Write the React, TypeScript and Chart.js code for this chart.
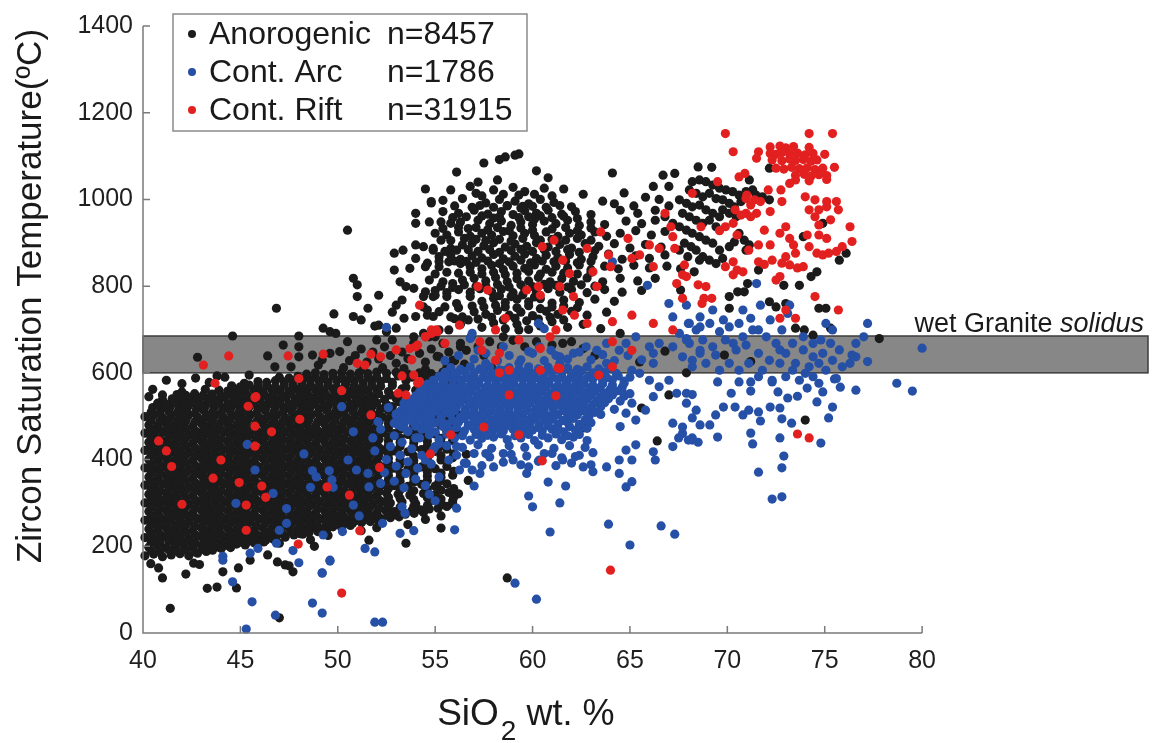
import React, { useEffect, useRef } from 'react';
import { Chart, registerables } from 'chart.js';

Chart.register(...registerables);

// ---------- axes / labels ----------
const xTickValues = [40, 45, 50, 55, 60, 65, 70, 75, 80];
const yTickValues = [0, 200, 400, 600, 800, 1000, 1200, 1400];
const X_MIN = 40;
const X_AXIS_END = 80;
const X_MAX = 91.7; // band continues past the axis end
const Y_MIN = 0;
const Y_MAX = 1400;
const solidusBand = [600, 685];
const legendLabels = ['Anorogenic', 'Cont. Arc', 'Cont. Rift'];
const legendCounts = ['n=8457', 'n=1786', 'n=31915'];
const seriesColors = ['#1b1b1b', '#2650a6', '#e2201f'];

// ---------- Anorogenic (black) ----------
const anorogenicCore = [
  40.1,178, 40.55,182, 41.0,176, 41.45,180, 41.9,183, 42.35,178, 42.8,184, 43.25,188,
  40.3,198, 40.75,202, 41.2,197, 41.65,200, 42.1,203, 42.55,199, 43.0,201, 43.45,204, 43.9,198, 44.35,202, 44.8,205, 45.25,203, 45.7,208,
  40.1,220, 40.55,218, 41.0,222, 41.45,219, 41.9,221, 42.35,217, 42.8,223, 43.25,220, 43.7,218, 44.15,222, 44.6,219, 45.05,221, 45.5,218, 45.95,223, 46.4,220, 46.85,224, 47.3,221, 47.75,226, 48.2,228,
  40.3,240, 40.75,238, 41.2,242, 41.65,239, 42.1,241, 42.55,237, 43.0,243, 43.45,240, 43.9,238, 44.35,242, 44.8,239, 45.25,241, 45.7,237, 46.15,243, 46.6,240, 47.05,238, 47.5,242, 47.95,239, 48.4,241, 48.85,243, 49.3,240, 49.75,245, 50.2,243, 50.65,248,
  40.1,260, 40.55,258, 41.0,262, 41.45,259, 41.9,261, 42.35,257, 42.8,263, 43.25,260, 43.7,258, 44.15,262, 44.6,259, 45.05,261, 45.5,257, 45.95,263, 46.4,260, 46.85,258, 47.3,262, 47.75,259, 48.2,261, 48.65,257, 49.1,263, 49.55,260, 50.0,258, 50.45,262, 50.9,259, 51.35,261, 51.8,264, 52.25,262, 52.7,266, 53.15,268,
  40.3,280, 40.75,278, 41.2,282, 41.65,279, 42.1,281, 42.55,277, 43.0,283, 43.45,280, 43.9,278, 44.35,282, 44.8,279, 45.25,281, 45.7,277, 46.15,283, 46.6,280, 47.05,278, 47.5,282, 47.95,279, 48.4,281, 48.85,277, 49.3,283, 49.75,280, 50.2,278, 50.65,282, 51.1,279, 51.55,281, 52.0,277, 52.45,283, 52.9,280, 53.35,278, 53.8,282, 54.25,284, 54.7,286, 55.15,288, 55.6,292,
  40.1,300, 40.55,298, 41.0,303, 41.45,299, 41.9,301, 42.35,297, 42.8,303, 43.25,300, 43.7,298, 44.15,302, 44.6,299, 45.05,301, 45.5,297, 45.95,303, 46.4,300, 46.85,298, 47.3,302, 47.75,299, 48.2,301, 48.65,297, 49.1,303, 49.55,300, 50.0,298, 50.45,302, 50.9,299, 51.35,301, 51.8,297, 52.25,303, 52.7,300, 53.3,302, 54.0,298, 54.7,303, 55.3,300, 55.9,305,
  40.3,320, 40.75,318, 41.2,322, 41.65,319, 42.1,321, 42.55,317, 43.0,323, 43.45,320, 43.9,318, 44.35,322, 44.8,319, 45.25,321, 45.7,317, 46.15,323, 46.6,320, 47.05,318, 47.5,322, 47.95,319, 48.4,321, 48.85,317, 49.3,323, 49.75,320, 50.2,318, 50.65,322, 51.1,319, 51.55,321, 52.0,317, 52.5,323, 53.1,320, 53.7,318, 54.4,322, 55.0,319, 55.7,324, 56.2,321,
  40.1,341, 40.55,338, 41.0,343, 41.45,339, 41.9,341, 42.35,337, 42.8,342, 43.25,340, 43.7,338, 44.15,343, 44.6,339, 45.05,341, 45.5,337, 45.95,342, 46.4,340, 46.85,338, 47.3,343, 47.75,339, 48.2,341, 48.65,337, 49.1,342, 49.55,340, 50.0,338, 50.45,343, 50.9,339, 51.35,341, 51.8,337, 52.3,342, 52.9,340, 53.6,338, 54.3,343, 55.0,339, 55.6,344,
  40.3,360, 40.75,358, 41.2,362, 41.65,359, 42.1,361, 42.55,357, 43.0,363, 43.45,360, 43.9,358, 44.35,362, 44.8,359, 45.25,361, 45.7,357, 46.15,363, 46.6,360, 47.05,358, 47.5,362, 47.95,359, 48.4,361, 48.85,357, 49.3,363, 49.75,360, 50.2,358, 50.65,362, 51.1,359, 51.55,361, 52.0,357, 52.6,363, 53.2,360, 53.9,358, 54.6,362, 55.3,359, 55.9,364,
  40.1,381, 40.55,378, 41.0,383, 41.45,379, 41.9,381, 42.35,377, 42.8,382, 43.25,380, 43.7,378, 44.15,383, 44.6,379, 45.05,381, 45.5,377, 45.95,382, 46.4,380, 46.85,378, 47.3,383, 47.75,379, 48.2,381, 48.65,377, 49.1,382, 49.55,380, 50.0,378, 50.45,383, 50.9,379, 51.35,381, 51.8,377, 52.3,382, 52.9,380, 53.6,378, 54.3,383, 55.0,379, 55.6,384,
  40.3,400, 40.75,398, 41.2,402, 41.65,399, 42.1,401, 42.55,397, 43.0,403, 43.45,400, 43.9,398, 44.35,402, 44.8,399, 45.25,401, 45.7,397, 46.15,403, 46.6,400, 47.05,398, 47.5,402, 47.95,399, 48.4,401, 48.85,397, 49.3,403, 49.75,400, 50.2,398, 50.65,402, 51.1,399, 51.55,401, 52.0,397, 52.6,403, 53.2,400, 53.9,398, 54.6,402, 55.3,399, 55.9,404,
  40.1,421, 40.55,418, 41.0,423, 41.45,419, 41.9,421, 42.35,417, 42.8,422, 43.25,420, 43.7,418, 44.15,423, 44.6,419, 45.05,421, 45.5,417, 45.95,422, 46.4,420, 46.85,418, 47.3,423, 47.75,419, 48.2,421, 48.65,417, 49.1,422, 49.55,420, 50.0,418, 50.45,423, 50.9,419, 51.35,421, 51.8,417, 52.3,422, 52.9,420, 53.6,418, 54.3,423, 55.0,419, 55.6,424,
  40.3,440, 40.75,438, 41.2,442, 41.65,439, 42.1,441, 42.55,437, 43.0,443, 43.45,440, 43.9,438, 44.35,442, 44.8,439, 45.25,441, 45.7,437, 46.15,443, 46.6,440, 47.05,438, 47.5,442, 47.95,439, 48.4,441, 48.85,437, 49.3,443, 49.75,440, 50.2,438, 50.65,442, 51.1,439, 51.55,441, 52.0,437, 52.6,443, 53.2,440, 53.9,438, 54.6,442, 55.3,439, 55.9,444,
  40.1,461, 40.55,458, 41.0,463, 41.45,459, 41.9,461, 42.35,457, 42.8,462, 43.25,460, 43.7,458, 44.15,463, 44.6,459, 45.05,461, 45.5,457, 45.95,462, 46.4,460, 46.85,458, 47.3,463, 47.75,459, 48.2,461, 48.65,457, 49.1,462, 49.55,460, 50.0,458, 50.45,463, 50.9,459, 51.35,461, 51.8,457, 52.3,462, 52.9,460, 53.6,458, 54.3,463, 55.0,459, 55.6,464, 56.2,460,
  40.3,480, 40.75,478, 41.2,482, 41.65,479, 42.1,481, 42.55,477, 43.0,483, 43.45,480, 43.9,478, 44.35,482, 44.8,479, 45.25,481, 45.7,477, 46.15,483, 46.6,480, 47.05,478, 47.5,482, 47.95,479, 48.4,481, 48.85,477, 49.3,483, 49.75,480, 50.2,478, 50.65,482, 51.1,479, 51.55,481, 52.0,477, 52.6,483, 53.2,480, 53.9,478, 54.6,482, 55.3,479, 55.9,484,
  40.1,499, 40.55,502, 41.0,497, 41.45,501, 41.9,499, 42.35,503, 42.8,498, 43.25,500, 43.7,502, 44.15,497, 44.6,501, 45.05,499, 45.5,503, 45.95,498, 46.4,500, 46.85,502, 47.3,497, 47.75,501, 48.2,499, 48.65,503, 49.1,498, 49.55,500, 50.0,502, 50.45,497, 50.9,501, 51.35,499, 51.8,503, 52.3,498, 52.9,500, 53.6,502, 54.3,497, 55.0,501, 55.6,499, 56.2,503,
  40.5,520, 40.95,518, 41.4,522, 41.85,519, 42.3,521, 42.75,517, 43.2,523, 43.65,520, 44.1,518, 44.55,522, 45.0,519, 45.45,521, 45.9,517, 46.35,523, 46.8,520, 47.25,518, 47.7,522, 48.15,519, 48.6,521, 49.05,517, 49.5,523, 49.95,520, 50.4,518, 50.85,522, 51.3,519, 51.75,521, 52.2,517, 52.8,522, 53.5,520, 54.2,518, 54.9,523, 55.6,520,
  40.3,545, 41.0,538, 41.5,540, 41.95,538, 42.4,542, 42.85,539, 43.3,541, 43.75,537, 44.2,543, 44.65,540, 45.1,538, 45.55,542, 46.0,539, 46.45,541, 46.9,537, 47.35,543, 47.8,540, 48.25,538, 48.7,542, 49.15,539, 49.6,541, 50.05,537, 50.5,543, 50.95,540, 51.4,538, 51.85,542, 52.4,539, 53.0,541, 53.7,537, 54.4,543, 55.1,540, 55.8,538,
  42.0,556, 43.2,562, 43.9,560, 44.35,558, 44.8,562, 45.25,559, 45.7,561, 46.15,557, 46.6,563, 47.05,560, 47.5,558, 47.95,562, 48.4,559, 48.85,561, 49.3,557, 49.75,563, 50.2,560, 50.65,558, 51.1,562, 51.55,559, 52.0,561, 52.6,557, 53.3,563, 54.0,560, 54.7,558, 55.4,562, 56.0,559,
  45.2,576, 45.9,580, 46.35,578, 46.8,582, 47.25,579, 47.7,581, 48.15,577, 48.6,583, 49.05,580, 49.5,578, 49.95,582, 50.4,579, 50.85,581, 51.3,577, 51.75,583, 52.2,580, 52.8,578, 53.5,582, 54.2,579, 54.9,581, 55.6,577, 56.2,583,
  48.4,597, 48.85,600, 49.3,596, 49.75,599, 50.2,601, 50.65,597, 51.1,600, 51.55,598, 52.0,602, 52.5,599, 53.0,601, 53.6,597, 54.2,600, 54.8,598, 55.4,602, 56.0,599,
];

// in-between rows of the same dense blob
const anorogenicCoreFill = [
  40.42,190, 40.87,188, 41.32,192, 41.77,189, 42.22,191, 42.67,187, 43.12,193, 43.57,191, 44.02,195, 44.5,197,
  40.42,210, 40.87,208, 41.32,212, 41.77,209, 42.22,211, 42.67,207, 43.12,213, 43.57,210, 44.02,208, 44.47,212, 44.92,209, 45.37,211, 45.82,213, 46.3,214, 46.7,216,
  40.42,230, 40.87,228, 41.32,232, 41.77,229, 42.22,231, 42.67,227, 43.12,233, 43.57,230, 44.02,228, 44.47,232, 44.92,229, 45.37,231, 45.82,227, 46.27,233, 46.72,230, 47.17,228, 47.62,232, 48.07,229, 48.52,231, 48.97,234, 49.42,236,
  40.42,250, 40.87,248, 41.32,252, 41.77,249, 42.22,251, 42.67,247, 43.12,253, 43.57,250, 44.02,248, 44.47,252, 44.92,249, 45.37,251, 45.82,247, 46.27,253, 46.72,250, 47.17,248, 47.62,252, 48.07,249, 48.52,251, 48.97,247, 49.42,253, 49.87,250, 50.32,252, 50.77,254, 51.22,255, 51.67,257, 52.1,258,
  40.42,270, 40.87,268, 41.32,272, 41.77,269, 42.22,271, 42.67,267, 43.12,273, 43.57,270, 44.02,268, 44.47,272, 44.92,269, 45.37,271, 45.82,267, 46.27,273, 46.72,270, 47.17,268, 47.62,272, 48.07,269, 48.52,271, 48.97,267, 49.42,273, 49.87,270, 50.32,268, 50.77,272, 51.22,269, 51.67,271, 52.12,267, 52.57,273, 53.02,272, 53.47,274, 53.92,276, 54.4,278,
  40.42,290, 40.87,288, 41.32,292, 41.77,289, 42.22,291, 42.67,287, 43.12,293, 43.57,290, 44.02,288, 44.47,292, 44.92,289, 45.37,291, 45.82,287, 46.27,293, 46.72,290, 47.17,288, 47.62,292, 48.07,289, 48.52,291, 48.97,287, 49.42,293, 49.87,290, 50.32,288, 50.77,292, 51.22,289, 51.67,291, 52.12,287, 52.6,293, 53.2,290, 53.9,292, 54.6,294, 55.3,296, 55.9,298,
  40.42,310, 40.87,308, 41.32,312, 41.77,309, 42.22,311, 42.67,307, 43.12,313, 43.57,310, 44.02,308, 44.47,312, 44.92,309, 45.37,311, 45.82,307, 46.27,313, 46.72,310, 47.17,308, 47.62,312, 48.07,309, 48.52,311, 48.97,307, 49.42,313, 49.87,310, 50.32,308, 50.77,312, 51.22,309, 51.67,311, 52.12,307, 52.6,313, 53.2,310, 53.9,308, 54.6,312, 55.3,309, 55.95,313,
  40.42,330, 40.87,328, 41.32,332, 41.77,329, 42.22,331, 42.67,327, 43.12,333, 43.57,330, 44.02,328, 44.47,332, 44.92,329, 45.37,331, 45.82,327, 46.27,333, 46.72,330, 47.17,328, 47.62,332, 48.07,329, 48.52,331, 48.97,327, 49.42,333, 49.87,330, 50.32,328, 50.77,332, 51.22,329, 51.67,331, 52.12,327, 52.6,333, 53.2,330, 53.9,328, 54.6,332, 55.3,329, 55.95,333,
  40.42,350, 40.87,348, 41.32,352, 41.77,349, 42.22,351, 42.67,347, 43.12,353, 43.57,350, 44.02,348, 44.47,352, 44.92,349, 45.37,351, 45.82,347, 46.27,353, 46.72,350, 47.17,348, 47.62,352, 48.07,349, 48.52,351, 48.97,347, 49.42,353, 49.87,350, 50.32,348, 50.77,352, 51.22,349, 51.67,351, 52.12,347, 52.6,353, 53.2,350, 53.9,348, 54.6,352, 55.2,349,
  40.42,370, 40.87,368, 41.32,372, 41.77,369, 42.22,371, 42.67,367, 43.12,373, 43.57,370, 44.02,368, 44.47,372, 44.92,369, 45.37,371, 45.82,367, 46.27,373, 46.72,370, 47.17,368, 47.62,372, 48.07,369, 48.52,371, 48.97,367, 49.42,373, 49.87,370, 50.32,368, 50.77,372, 51.22,369, 51.67,371, 52.12,367, 52.6,373, 53.2,370, 53.9,368, 54.6,372, 55.3,369, 55.95,373,
  40.42,390, 40.87,388, 41.32,392, 41.77,389, 42.22,391, 42.67,387, 43.12,393, 43.57,390, 44.02,388, 44.47,392, 44.92,389, 45.37,391, 45.82,387, 46.27,393, 46.72,390, 47.17,388, 47.62,392, 48.07,389, 48.52,391, 48.97,387, 49.42,393, 49.87,390, 50.32,388, 50.77,392, 51.22,389, 51.67,391, 52.12,387, 52.6,393, 53.2,390, 53.9,388, 54.6,392,
  40.42,410, 40.87,408, 41.32,412, 41.77,409, 42.22,411, 42.67,407, 43.12,413, 43.57,410, 44.02,408, 44.47,412, 44.92,409, 45.37,411, 45.82,407, 46.27,413, 46.72,410, 47.17,408, 47.62,412, 48.07,409, 48.52,411, 48.97,407, 49.42,413, 49.87,410, 50.32,408, 50.77,412, 51.22,409, 51.67,411, 52.12,407, 52.6,413, 53.2,410, 53.9,408, 54.6,412, 55.3,409, 55.95,413,
  40.42,430, 40.87,428, 41.32,432, 41.77,429, 42.22,431, 42.67,427, 43.12,433, 43.57,430, 44.02,428, 44.47,432, 44.92,429, 45.37,431, 45.82,427, 46.27,433, 46.72,430, 47.17,428, 47.62,432, 48.07,429, 48.52,431, 48.97,427, 49.42,433, 49.87,430, 50.32,428, 50.77,432, 51.22,429, 51.67,431, 52.12,427, 52.6,433, 53.2,430, 53.9,428, 54.6,432, 55.2,429,
  40.42,450, 40.87,448, 41.32,452, 41.77,449, 42.22,451, 42.67,447, 43.12,453, 43.57,450, 44.02,448, 44.47,452, 44.92,449, 45.37,451, 45.82,447, 46.27,453, 46.72,450, 47.17,448, 47.62,452, 48.07,449, 48.52,451, 48.97,447, 49.42,453, 49.87,450, 50.32,448, 50.77,452, 51.22,449, 51.67,451, 52.12,447, 52.6,453, 53.2,450, 53.9,448, 54.6,452, 55.3,449, 55.95,453,
  40.42,470, 40.87,468, 41.32,472, 41.77,469, 42.22,471, 42.67,467, 43.12,473, 43.57,470, 44.02,468, 44.47,472, 44.92,469, 45.37,471, 45.82,467, 46.27,473, 46.72,470, 47.17,468, 47.62,472, 48.07,469, 48.52,471, 48.97,467, 49.42,473, 49.87,470, 50.32,468, 50.77,472, 51.22,469, 51.67,471, 52.12,467, 52.6,473, 53.2,470, 53.9,468, 54.6,472,
  40.42,490, 40.87,488, 41.32,492, 41.77,489, 42.22,491, 42.67,487, 43.12,493, 43.57,490, 44.02,488, 44.47,492, 44.92,489, 45.37,491, 45.82,487, 46.27,493, 46.72,490, 47.17,488, 47.62,492, 48.07,489, 48.52,491, 48.97,487, 49.42,493, 49.87,490, 50.32,488, 50.77,492, 51.22,489, 51.67,491, 52.12,487, 52.6,493, 53.2,490, 53.9,488, 54.6,492, 55.3,489, 55.95,493,
  40.42,510, 40.87,508, 41.32,512, 41.77,509, 42.22,511, 42.67,507, 43.12,513, 43.57,510, 44.02,508, 44.47,512, 44.92,509, 45.37,511, 45.82,507, 46.27,513, 46.72,510, 47.17,508, 47.62,512, 48.07,509, 48.52,511, 48.97,507, 49.42,513, 49.87,510, 50.32,508, 50.77,512, 51.22,509, 51.67,511, 52.12,507, 52.6,513, 53.2,510, 53.9,508, 54.6,512, 55.3,509,
  40.75,530, 41.2,528, 41.65,532, 42.1,529, 42.55,531, 43.0,527, 43.45,533, 43.9,530, 44.35,528, 44.8,532, 45.25,529, 45.7,531, 46.15,527, 46.6,533, 47.05,530, 47.5,528, 47.95,532, 48.4,529, 48.85,531, 49.3,527, 49.75,533, 50.2,530, 50.65,528, 51.1,532, 51.55,529, 52.0,531, 52.5,527, 53.15,533, 53.85,530, 54.55,528, 55.25,532, 55.95,529,
  41.75,550, 42.2,548, 42.65,552, 43.1,549, 43.55,551, 44.0,547, 44.45,553, 44.9,550, 45.35,548, 45.8,552, 46.25,549, 46.7,551, 47.15,547, 47.6,553, 48.05,550, 48.5,548, 48.95,552, 49.4,549, 49.85,551, 50.3,547, 50.75,553, 51.2,550, 51.65,548, 52.1,552, 52.7,549, 53.35,551, 54.05,547, 54.75,553, 55.45,550, 55.95,548,
  44.55,570, 45.0,568, 45.45,572, 45.9,569, 46.35,571, 46.8,567, 47.25,573, 47.7,570, 48.15,568, 48.6,572, 49.05,569, 49.5,571, 49.95,567, 50.4,573, 50.85,570, 51.3,568, 51.75,572, 52.2,569, 52.8,571, 53.5,567, 54.2,573, 54.9,570, 55.6,568, 56.1,572,
  47.0,590, 47.5,588, 47.95,592, 48.4,589, 48.85,591, 49.3,587, 49.75,593, 50.2,590, 50.65,588, 51.1,592, 51.55,589, 52.0,591, 52.5,587, 53.1,593, 53.8,590, 54.5,588, 55.2,592, 55.9,589,
];

const anorogenicEdge = [
  46.2,210, 47.0,207, 48.6,215, 49.5,225, 51.2,236, 52.0,243, 53.6,250, 54.5,262, 55.3,270,
  40.4,160, 40.8,150, 41.0,127, 41.4,57, 42.2,136, 42.6,161, 42.9,158, 43.3,103, 43.8,106, 44.1,141,
  44.8,104, 44.9,150, 45.5,168, 46.9,164, 47.0,35, 47.3,157, 47.5,155, 47.7,141, 46.4,180, 48.8,200,
  51.6,214, 53.5,207, 55.3,242, 58.7,127, 41.0,549,
  40.5,562, 41.2,583, 42.0,575, 42.7,588, 43.4,578, 44.2,590, 56.7,352, 56.6,412, 56.9,478,
];

const anorogenicBand = [
  42.8,636, 43.8,593, 44.6,685, 45.45,595, 46.4,639, 46.85,749, 46.77,614, 47.2,664, 48.0,685, 48.0,660,
  48.0,637, 47.6,614, 48.7,641, 49.2,630, 49.6,645, 50.1,649, 50.5,672, 49.25,703, 49.6,695, 49.9,691,
  49.8,736, 50.5,929, 50.8,818, 51.0,803, 51.0,776, 51.55,749, 50.8,730, 51.2,722, 51.9,708, 52.1,779,
  50.6,628, 50.9,640, 51.2,655, 51.5,625, 51.8,648, 52.1,632, 52.4,660, 52.7,640, 53.0,622, 53.3,648,
  53.6,633, 53.9,668, 54.2,645, 54.5,625, 54.8,655, 55.1,638, 55.4,668, 55.7,648, 56.0,628, 56.3,660,
  52.0,676, 52.8,676, 53.9,683, 54.7,683, 55.2,699, 50.3,612, 51.3,608, 52.3,612, 53.4,610, 54.5,608,
  55.6,612, 49.0,618, 52.9,876, 53.35,883, 54.0,895, 54.0,864, 53.7,841, 52.9,837, 54.0,968, 54.0,945,
  54.8,992, 54.9,883, 54.6,853, 53.2,810, 53.5,799, 53.9,795, 54.5,787, 53.0,756, 53.3,768, 54.9,776,
  54.4,752, 54.0,730, 53.4,726, 53.0,703, 52.5,695, 52.1,710, 54.6,745, 54.9,730,
  56.5,620, 57.5,640, 58.5,683, 59.3,699, 61.55,668, 62.6,656, 64.5,691, 63.2,640, 65.5,625, 66.8,650,
  55.6,622, 57.9,612,
];

const anorogenicUpper = [
  56.1,1063, 57.5,1084, 58.3,1092, 58.6,1098, 59.3,1105, 60.2,1066, 58.2,1045, 64.1,1061, 66.7,1056, 60.8,1050, 57.2,1040, 59.1,1102,
  54.5,1024, 55.8,1022, 57.1,1014, 56.8,1030, 58.0,1022, 59.0,1028, 59.6,1018, 60.6,1026, 61.6,1024, 62.6,1012,
  54.8,995, 55.4,998, 56.4,1002, 57.6,992, 58.3,1000, 59.1,996, 59.8,990, 60.4,1000, 61.1,993, 63.6,996, 64.2,990,
  55.4,972, 56.2,968, 57.0,975, 57.7,966, 58.4,972, 59.0,965, 59.6,974, 60.2,968, 60.8,975, 61.5,966, 62.2,972, 63.0,965, 64.5,975, 65.4,968,
  54.7,948, 55.3,948, 55.8,945, 56.3,948, 56.7,933, 57.2,952, 57.8,944, 58.4,950, 58.9,940, 59.4,948, 60.0,942, 60.6,950, 61.2,944, 61.8,952, 62.4,940, 63.0,948, 63.7,942, 64.8,950, 65.6,944, 66.3,952,
  55.0,922, 55.6,918, 56.2,925, 56.8,915, 57.4,922, 57.9,918, 58.5,926, 59.0,916, 59.6,922, 60.1,917, 60.7,925, 61.3,915, 61.9,922, 62.5,918, 63.2,925, 63.8,915, 64.5,922, 65.3,928, 66.1,918, 66.8,926,
  54.4,891, 54.9,887, 55.3,906, 55.8,887, 56.4,895, 56.9,899, 57.5,893, 58.0,900, 58.6,890, 59.1,897, 59.7,892, 60.2,900, 60.8,890, 61.4,896, 62.0,888, 62.7,898, 63.4,892, 64.2,898, 65.0,888, 65.8,896, 66.6,890,
  55.2,868, 55.8,872, 56.3,862, 56.9,870, 57.4,865, 58.0,873, 58.5,863, 59.1,869, 59.6,874, 60.2,864, 60.7,871, 61.3,866, 61.9,873, 62.5,862, 63.1,868, 63.9,874, 64.6,862, 65.3,870, 66.0,864, 66.8,872,
  54.5,845, 55.2,845, 55.7,856, 56.3,852, 56.8,845, 57.4,840, 57.9,848, 58.5,838, 59.0,846, 59.6,841, 60.1,849, 60.7,839, 61.2,846, 61.8,842, 62.4,849, 63.0,838, 63.7,846, 64.4,840, 65.2,848, 66.0,842, 66.9,846, 67.6,840,
  54.7,814, 55.4,810, 55.9,806, 56.4,814, 57.0,818, 57.6,812, 58.1,820, 58.7,810, 59.2,817, 59.8,812, 60.3,820, 60.9,810, 61.5,817, 62.1,811, 62.8,819, 63.6,810, 64.5,818, 65.4,812, 66.3,818,
  55.0,790, 55.6,785, 56.2,792, 56.8,786, 57.3,794, 57.9,787, 58.4,793, 59.0,785, 59.6,792, 60.2,786, 60.8,794, 61.4,786, 62.0,792, 62.8,785, 63.7,792, 64.6,786, 65.6,790,
  54.4,776, 55.0,779, 55.6,776, 56.1,760, 56.8,776, 57.4,765, 58.0,772, 58.6,762, 59.2,770, 59.8,764, 60.4,771, 61.0,761, 61.6,768, 62.4,762, 63.2,770, 64.2,765,
  52.8,740, 54.6,733, 55.2,741, 55.8,729, 56.4,729, 57.0,741, 57.6,735, 58.2,744, 58.8,733, 59.4,740, 60.0,732, 60.7,742, 61.3,735, 62.0,742, 62.8,733, 63.8,740,
  54.4,691, 55.0,683, 55.7,699, 56.3,712, 56.85,683, 57.4,705, 58.0,715, 58.6,702, 59.2,712, 59.8,700, 60.4,708, 61.0,718, 61.8,705, 62.6,712, 63.5,702,
  55.2,637, 55.9,629, 56.3,668, 56.6,652, 57.2,660, 57.8,672, 58.4,660, 59.0,675, 59.6,660, 60.2,672, 61.0,664, 62.0,672,
  57.7,930, 58.2,935, 58.8,928, 59.4,934, 60.0,929, 57.6,905, 58.3,908, 58.9,904, 59.5,910, 60.4,906,
  57.2,880, 57.8,884, 58.3,878, 58.9,882, 59.4,885, 60.0,880, 60.6,884, 57.1,855, 57.7,858, 58.3,852,
  58.8,856, 59.4,860, 59.9,854, 60.5,858, 57.4,828, 58.0,832, 58.6,826, 59.2,830, 59.8,834, 60.4,828,
  61.0,832, 57.6,800, 58.2,804, 58.8,798, 59.4,803, 60.0,799, 60.6,804, 58.3,778, 58.9,776, 59.5,780,
  60.1,775, 58.6,752, 59.2,750, 59.8,755, 60.4,748, 58.3,960, 59.3,958, 60.1,955, 58.7,985, 59.5,984,
  66.5,1000, 67.0,985, 66.8,960, 67.2,945, 66.3,975, 65.8,1005, 65.2,985, 64.7,1015, 67.3,1060, 67.0,1030, 66.2,1030,
  57.4,1008, 58.5,1012, 59.3,1010, 60.1,1012, 61.0,1008,
  56.0,985, 56.9,982, 57.3,986, 58.0,982, 58.7,986, 59.4,980, 60.0,984, 60.7,982, 61.4,986, 62.0,983,
  55.9,958, 56.6,960, 57.4,962, 58.0,957, 59.8,960, 60.4,962, 61.0,958, 61.6,961, 62.3,956,
  55.4,933, 56.2,936, 57.1,935, 61.0,932, 61.7,935, 62.3,928, 63.0,934,
  55.8,905, 56.5,910, 57.1,908, 61.0,908, 61.7,906, 62.3,910, 63.0,906,
  55.5,880, 56.1,883, 56.7,884, 61.2,880, 61.8,884, 62.4,878, 63.2,882,
  55.2,857, 56.0,858, 56.6,857, 61.1,856, 61.7,858, 62.3,854, 63.0,857,
  55.0,828, 55.6,832, 56.2,830, 56.8,832, 61.6,830, 62.3,828, 63.0,832,
  55.3,800, 55.9,797, 56.5,803, 57.1,800, 61.2,802, 61.8,798, 62.5,803, 63.2,800,
  55.5,752, 56.2,750, 56.9,754, 57.5,752, 58.1,756, 61.0,752, 61.6,754, 62.3,750,
  56.0,725, 56.7,722, 57.2,724, 57.9,728, 58.5,722, 59.1,726, 59.7,720, 60.3,724, 60.9,728, 61.6,722,
];

const anorogenicRing = [
  68.2,1041, 68.57,1045, 68.9,1041, 69.25,1033, 69.6,1026, 69.93,1022, 70.27,1018, 70.6,1010, 70.96,1018, 71.3,1022,
  68.05,1022, 68.4,1014, 68.74,1006, 69.08,1014, 69.42,1002, 69.76,999, 70.1,991, 70.36,983, 70.7,995, 67.54,999,
  67.9,991, 68.2,983, 68.57,987, 68.9,976, 69.25,968, 69.6,960, 67.7,968, 68.05,960, 68.4,952, 68.74,945,
  69.08,952, 69.42,937, 67.54,937, 67.9,929, 68.2,922, 68.57,914, 68.9,906, 69.25,899, 67.8,899, 68.14,891,
  68.4,883, 68.74,868, 69.08,860, 69.42,852, 69.76,864, 67.54,883, 67.97,868, 68.57,860, 70.87,906, 71.13,895,
  70.96,883, 72.16,999, 71.8,1006, 71.47,1010, 70.1,968, 70.45,960, 69.76,976, 70.6,922, 70.36,902, 70.1,891,
  69.6,883, 68.5,1075, 69.2,1074, 72.16,1072, 71.13,1045,
  68.3,833, 71.04,806, 70.1,776, 70.53,787, 70.87,787, 72.16,764, 72.5,752, 73.0,760, 72.9,802, 73.7,802,
  74.3,822, 74.6,833, 75.75,860, 76.1,876, 73.9,914, 74.9,945, 74.7,749, 75.06,749, 75.3,703, 73.5,703,
  73.95,699, 74.4,687, 77.8,679, 69.85,641, 71.2,626, 67.9,600, 70.1,749, 71.6,837, 67.6,791,
  62.6,473, 66.4,443, 67.0,549, 65.6,519, 74.0,491,
];

// ---------- Cont. Arc (blue) ----------
const arcCore = [
  55.8,612, 56.3,608, 56.8,614, 57.3,609, 57.8,613, 58.3,607, 58.8,612, 59.3,608, 59.8,614, 60.3,609, 60.8,613, 61.3,607, 61.8,612, 62.3,608, 62.8,614, 63.4,609, 64.0,612,
  55.2,592, 55.65,590, 56.1,594, 56.55,589, 57.0,593, 57.45,590, 57.9,594, 58.35,588, 58.8,592, 59.25,590, 59.7,594, 60.15,589, 60.6,593, 61.05,590, 61.5,594, 61.95,588, 62.4,592, 62.85,590, 63.3,594, 63.8,589, 64.4,593, 65.0,590,
  54.6,574, 55.0,572, 55.45,576, 55.9,571, 56.35,575, 56.8,572, 57.25,576, 57.7,570, 58.15,574, 58.6,572, 59.05,576, 59.5,571, 59.95,575, 60.4,572, 60.85,576, 61.3,570, 61.75,574, 62.2,572, 62.65,576, 63.1,571, 63.6,575, 64.1,572, 64.7,576,
  54.2,556, 54.65,554, 55.1,558, 55.55,553, 56.0,557, 56.45,554, 56.9,558, 57.35,552, 57.8,556, 58.25,554, 58.7,558, 59.15,553, 59.6,557, 60.05,554, 60.5,558, 60.95,552, 61.4,556, 61.85,554, 62.3,558, 62.75,553, 63.2,557, 63.7,554, 64.3,558, 65.0,552,
  53.8,538, 54.25,536, 54.7,540, 55.15,535, 55.6,539, 56.05,536, 56.5,540, 56.95,534, 57.4,538, 57.85,536, 58.3,540, 58.75,535, 59.2,539, 59.65,536, 60.1,540, 60.55,534, 61.0,538, 61.45,536, 61.9,540, 62.35,535, 62.8,539, 63.3,536, 63.9,540, 64.5,535,
  53.4,520, 53.85,518, 54.3,522, 54.75,517, 55.2,521, 55.65,518, 56.1,522, 56.55,516, 57.0,520, 57.45,518, 57.9,522, 58.35,517, 58.8,521, 59.25,518, 59.7,522, 60.15,516, 60.6,520, 61.05,518, 61.5,522, 61.95,517, 62.4,521, 62.9,518, 63.5,522, 64.2,516,
  53.0,502, 53.45,500, 53.9,504, 54.35,499, 54.8,503, 55.3,500, 55.8,504, 56.3,498, 56.8,502, 57.25,500, 57.7,504, 58.15,499, 58.6,503, 59.05,500, 59.5,504, 59.95,498, 60.4,502, 60.85,500, 61.3,504, 61.8,499, 62.3,503, 62.9,500, 63.5,504,
  52.9,484, 53.4,482, 53.9,486, 54.4,481, 55.0,485, 55.6,482, 56.2,486, 56.7,480, 57.2,484, 57.65,482, 58.1,486, 58.55,481, 59.0,485, 59.45,482, 59.9,486, 60.35,480, 60.8,484, 61.3,482, 61.8,486, 62.4,481, 63.0,485,
  53.6,466, 54.3,470, 55.0,464, 55.8,468, 56.5,466, 57.0,470, 57.5,464, 58.0,468, 58.5,466, 59.0,470, 59.5,464, 60.0,468, 60.5,466, 61.0,470, 61.6,464, 62.2,468, 62.8,472,
  54.2,450, 55.2,446, 56.0,450, 56.8,445, 57.4,449, 58.0,452, 58.7,446, 59.4,450, 60.1,444, 60.8,450, 61.5,446, 62.1,452, 62.8,444,
  55.6,432, 56.4,428, 57.2,434, 57.9,426, 58.8,432, 59.6,428, 60.3,434, 61.1,426, 61.9,432, 62.7,428,
  56.1,410, 57.0,414, 57.8,406, 58.9,412, 59.7,408, 60.6,414, 61.5,404, 62.4,410, 63.1,416,
  56.5,392, 57.4,386, 58.5,394, 59.4,388, 60.3,396, 61.2,386, 62.0,392, 63.0,388,
];

const arcCoreFill = [
  55.5,601, 56.0,599, 56.5,603, 57.0,600, 57.5,602, 58.0,598, 58.5,603, 59.0,600, 59.5,602, 60.0,598, 60.5,603, 61.0,600, 61.5,602, 62.0,599, 62.5,603, 63.1,600, 63.7,602, 64.3,599,
  54.9,583, 55.4,581, 55.9,585, 56.3,582, 56.8,584, 57.2,580, 57.7,585, 58.1,582, 58.6,584, 59.0,580, 59.5,585, 59.9,582, 60.4,584, 60.8,580, 61.3,585, 61.7,582, 62.2,584, 62.6,580, 63.1,585, 63.6,582, 64.1,584, 64.7,581,
  54.4,565, 54.85,563, 55.3,567, 55.75,564, 56.2,566, 56.65,562, 57.1,567, 57.55,564, 58.0,566, 58.45,562, 58.9,567, 59.35,564, 59.8,566, 60.25,562, 60.7,567, 61.15,564, 61.6,566, 62.05,562, 62.5,567, 62.95,564, 63.45,566, 64.0,563, 64.6,567,
  54.0,547, 54.45,545, 54.9,549, 55.35,546, 55.8,548, 56.25,544, 56.7,549, 57.15,546, 57.6,548, 58.05,544, 58.5,549, 58.95,546, 59.4,548, 59.85,544, 60.3,549, 60.75,546, 61.2,548, 61.65,544, 62.1,549, 62.55,546, 63.0,548, 63.5,545, 64.1,549, 64.7,546,
  53.6,529, 54.05,527, 54.5,531, 54.95,528, 55.4,530, 55.85,526, 56.3,531, 56.75,528, 57.2,530, 57.65,526, 58.1,531, 58.55,528, 59.0,530, 59.45,526, 59.9,531, 60.35,528, 60.8,530, 61.25,526, 61.7,531, 62.15,528, 62.6,530, 63.1,527, 63.7,531,
  53.2,511, 53.65,509, 54.1,513, 54.55,510, 55.0,512, 55.5,508, 56.0,513, 56.5,510, 57.0,512, 57.45,508, 57.9,513, 58.35,510, 58.8,512, 59.25,508, 59.7,513, 60.15,510, 60.6,512, 61.1,508, 61.6,513, 62.1,510, 62.6,512, 63.2,509,
  53.2,493, 53.7,491, 54.2,495, 54.7,492, 55.3,494, 55.9,490, 56.5,495, 57.0,492, 57.45,494, 57.9,490, 58.35,495, 58.8,492, 59.25,494, 59.7,490, 60.15,495, 60.6,492, 61.05,494, 61.55,490, 62.1,495, 62.7,492,
  53.3,475, 54.0,477, 54.7,473, 55.4,476, 56.1,474, 56.8,478, 57.3,473, 57.8,476, 58.3,474, 58.8,478, 59.3,473, 59.8,476, 60.3,474, 60.8,478, 61.3,473, 61.9,476, 62.5,474,
  54.7,457, 55.6,459, 56.4,455, 57.1,458, 57.7,456, 58.4,459, 59.1,455, 59.8,458, 60.5,456, 61.2,459, 61.8,455, 62.4,458,
];

const arcLeft = [
  45.35,435, 45.75,376, 44.77,299, 46.68,322, 47.37,287, 47.37,253, 47.0,237, 46.85,207, 45.5,184, 45.9,195,
  44.1,177, 48.26,413, 48.7,374, 48.9,360, 48.6,336, 49.7,353, 49.56,374, 49.76,336, 50.53,399, 50.96,376,
  50.8,464, 50.2,522, 49.25,226, 50.24,234, 47.7,190, 48.0,162, 49.2,139, 49.6,168, 51.4,195, 51.9,187,
  51.1,270, 52.3,253, 53.2,230, 53.9,236, 53.45,276, 53.3,291, 50.8,295, 51.6,337, 51.55,368, 52.07,487,
  52.6,520, 53.0,505, 53.4,530, 53.8,512, 54.2,495, 53.1,480, 53.6,465, 54.0,450, 52.9,455, 53.3,440,
  53.8,425, 54.3,410, 52.7,430, 53.2,410, 53.6,395, 54.1,380, 52.5,400, 53.0,385, 53.5,368, 54.0,355,
  54.5,340, 52.4,370, 52.9,350, 53.4,335, 52.2,345, 51.9,420, 52.2,470, 51.8,450, 54.6,470, 55.0,430,
  54.8,390, 55.2,360, 54.7,320, 55.0,305,
];

const arcScatter = [
  55.7,399, 55.2,437, 54.9,422, 54.5,399, 56.1,430, 56.25,376, 56.6,391, 56.9,376, 57.3,368, 57.6,414,
  58.0,383, 58.5,414, 59.0,399, 59.7,368, 59.8,383, 60.35,399, 61.0,414, 61.55,399, 62.2,407, 62.6,383,
  63.1,372, 63.8,383, 64.45,368, 64.8,337, 65.1,349, 64.45,399, 65.1,399, 66.3,399, 64.8,422, 65.3,434,
  66.2,418, 67.2,430, 68.2,445, 67.7,460, 67.2,484, 68.4,514, 67.9,530, 67.4,553, 67.0,583, 66.0,583,
  65.5,599, 66.5,568, 66.2,545, 65.8,514, 65.3,491, 64.5,476, 64.8,507, 65.1,530, 64.6,557,
  57.0,339, 56.1,288, 59.8,316, 60.0,291, 61.4,300, 61.7,339, 60.8,348, 60.9,233, 63.9,251, 65.0,203,
  66.6,247, 67.3,228, 59.1,115, 60.2,78, 56.0,238, 44.1,168, 44.6,118, 45.6,72, 45.3,9, 46.8,41,
  48.7,69, 49.2,138, 49.2,46, 49.6,166, 51.9,25, 52.3,25,
  69.5,579, 70.2,553, 70.6,579, 71.2,558, 72.3,579, 72.6,556, 73.1,542, 73.6,546, 74.1,565, 74.6,533,
  74.9,556, 75.5,586, 75.8,567, 76.6,560, 78.7,576, 79.5,558, 75.4,521, 75.2,496, 74.8,438, 72.7,450,
  72.9,408, 72.8,381, 71.6,371, 72.3,309, 72.8,314, 71.2,461, 71.3,436, 71.1,514, 71.6,510, 71.7,489,
  72.2,521, 72.7,519, 72.8,494, 73.3,484, 70.8,503, 70.4,521, 69.8,521, 69.4,503, 69.5,452, 69.1,480,
  68.6,480, 68.2,496, 67.7,475, 68.2,450, 67.5,450, 68.0,445, 68.5,440, 67.9,553, 68.2,550, 71.2,579,
];

const arcBand = [
  60.3,714, 60.6,702, 56.9,691, 56.8,679, 57.2,652, 58.5,660, 59.8,649, 60.35,660, 60.95,652, 61.4,637,
  62.1,645, 62.75,660, 63.3,652, 63.8,668, 64.45,652, 64.8,668, 65.3,683, 66.0,660, 66.5,668, 67.2,660,
  67.9,679, 68.4,699, 67.2,729, 67.9,756, 67.0,760, 64.1,856, 65.9,802, 68.0,714, 66.2,622, 65.1,606,
  63.8,622, 62.4,606, 61.4,622, 60.7,606, 59.3,622, 58.6,606, 57.6,622, 56.6,591, 68.2,629, 68.6,652,
  57.0,632, 57.6,645, 58.2,628, 58.8,640, 59.4,630, 60.0,645, 60.6,628, 61.2,640, 61.8,632, 62.4,648,
  63.0,630, 63.6,642, 64.2,628, 64.9,640, 65.6,630, 66.2,645, 55.5,628, 56.2,640, 52.5,705,
  71.5,806, 71.7,756, 73.2,756, 73.1,737, 77.2,714, 77.0,683, 75.06,714, 75.3,668, 76.4,641, 77.2,626,
  75.9,614, 75.6,587, 74.7,576, 74.0,599, 73.5,622, 73.0,645, 72.5,668, 72.0,683, 71.3,699, 70.6,714,
  70.1,706, 69.6,695, 69.1,714, 68.6,706, 68.05,714, 67.54,691, 68.05,668, 68.74,676, 69.25,660, 69.9,676,
  70.45,653, 70.96,664, 71.6,645, 72.16,629, 72.7,653, 73.35,668, 73.9,653, 74.4,637, 74.9,645, 75.4,629,
  74.7,622, 74.2,614, 73.35,606, 72.7,622, 71.8,606, 71.1,622, 70.6,606, 70.1,622, 69.6,606, 68.9,622,
  68.2,614, 67.7,637, 68.6,645, 69.4,641, 67.9,676, 71.6,591, 72.3,583, 73.0,591, 73.7,583, 74.4,591,
  75.06,606, 75.75,653, 76.3,622, 76.6,668, 74.4,668, 73.9,683, 72.8,699, 72.2,722, 70.8,745, 69.25,745,
  68.6,729, 69.8,722, 71.2,726, 71.6,699, 70.8,683, 70.3,668, 74.8,676, 75.4,699, 76.6,637, 80.0,657,
];

// ---------- Cont. Rift (red) ----------
const riftUpper = [
  69.9,1152, 74.2,1152, 75.4,1152, 70.3,1110, 71.6,1110, 71.5,1095,
  72.2,1121, 72.7,1123, 73.0,1119, 73.4,1122, 74.2,1120,
  72.2,1106, 72.5,1104, 72.8,1108, 73.2,1105, 73.6,1107, 74.0,1103, 74.4,1106, 75.0,1104,
  72.3,1091, 72.8,1089, 73.2,1093, 73.5,1090, 73.9,1092, 74.3,1088, 74.6,1091,
  72.5,1072, 72.9,1070, 73.3,1074, 73.7,1071, 74.1,1073, 74.5,1069, 74.9,1072, 75.5,1074,
  73.5,1056, 73.95,1058, 74.3,1054, 74.7,1057, 75.1,1055, 73.5,1045, 74.2,1043, 75.1,1046, 73.2,1037, 72.75,1022,
  70.6,1052, 70.9,1060, 69.5,1041, 68.2,1014, 71.0,1010, 71.4,999, 71.7,995, 72.1,1022, 72.8,995, 74.0,1006,
  74.5,999, 75.1,995, 75.6,995, 75.7,976, 74.2,976, 74.7,976, 75.1,983, 75.3,953, 74.5,960, 74.7,941,
  74.1,918, 74.7,918, 75.1,910, 76.3,937, 76.4,903, 75.9,891, 75.6,880, 75.2,876, 74.9,872, 74.6,876,
  74.2,891, 70.96,1002, 71.2,987,
  70.3,945, 69.9,937, 69.6,928, 70.5,918, 70.4,976, 70.7,964, 70.96,968, 71.2,960, 71.5,968, 72.2,972,
  71.9,929, 71.6,895, 72.2,895, 71.1,883, 71.6,856, 71.9,850, 72.3,860, 72.7,922, 73.0,937, 73.2,910,
  73.4,895, 73.5,876, 73.0,868, 72.8,853, 73.2,849, 73.6,842, 73.9,845, 72.7,822, 72.5,814, 70.3,856,
  69.9,845, 70.5,837, 70.8,833, 70.3,826, 67.8,849, 67.9,822, 68.5,803, 68.9,799, 68.8,772, 69.2,772,
  68.7,760, 67.7,772, 68.65,937, 74.5,776, 75.7,745, 73.0,745, 72.7,726, 73.5,726,
];

const riftMid = [
  54.2,756, 55.1,695, 54.8,699, 54.5,683, 55.5,668, 56.25,710, 57.2,799, 57.7,791, 57.3,672, 57.4,652,
  58.3,645, 58.6,726, 58.1,699, 59.7,791, 60.3,799, 60.4,779, 60.5,891, 61.1,906, 61.55,860, 61.9,829,
  61.4,799, 62.1,776, 61.55,745, 62.15,733, 62.8,887, 63.1,833, 63.3,799, 63.5,925, 63.9,872, 64.0,845,
  64.9,910, 65.1,864, 65.5,872, 66.0,895, 66.2,845, 66.5,887, 66.8,968, 67.1,937, 67.2,914, 67.3,887,
  67.7,826, 67.4,806, 65.1,733, 64.1,718, 62.8,714, 66.2,714, 67.2,699, 61.2,699, 60.9,683, 60.4,656,
  59.3,676, 60.4,606, 61.4,610, 63.4,595, 64.1,614, 65.1,652, 64.1,672, 58.1,629, 58.8,606,
  43.1,618, 44.4,639, 47.45,639, 49.25,643, 43.7,576, 48.0,587, 50.2,559, 45.8,545, 51.0,622, 51.4,618,
  51.7,643, 52.2,637, 53.0,653, 53.7,656, 54.0,660, 54.1,664, 54.5,683, 54.8,691, 55.05,699, 53.8,630,
  54.2,580, 53.3,593, 53.9,595, 53.1,553, 53.5,549,
];

const riftLower = [
  45.75,543, 45.4,523, 45.75,477, 45.75,431, 46.6,464, 48.05,493, 51.7,503, 40.8,443, 41.2,420, 41.47,384,
  42.0,297, 43.6,357, 44.0,399, 44.94,347, 45.3,295, 46.1,339, 46.3,313, 45.3,237, 49.45,337, 50.6,318,
  52.15,382, 54.75,413, 51.13,236, 47.97,205, 50.2,92, 54.1,576,
  64.0,145, 73.6,459, 74.2,450, 60.5,397, 59.3,457, 57.5,475, 55.8,457, 58.8,549, 61.2,547, 61.3,611, 58.3,600,
];

function toPoints(...lists: number[][]) {
  const out: { x: number; y: number }[] = [];
  for (const list of lists) {
    for (let i = 0; i + 1 < list.length; i += 2) out.push({ x: list[i], y: list[i + 1] });
  }
  return out;
}

const FONT = "'Liberation Sans', Arial, Helvetica, sans-serif";

const decorPlugin = {
  id: 'decor',
  beforeDatasetsDraw(chart: any) {
    const { ctx, scales } = chart;
    const xs = scales.x;
    const ys = scales.y;
    const x0 = xs.getPixelForValue(X_MIN);
    const x1 = xs.getPixelForValue(X_MAX);
    const yTop = ys.getPixelForValue(solidusBand[1]);
    const yBot = ys.getPixelForValue(solidusBand[0]);
    ctx.save();
    ctx.fillStyle = '#878787';
    ctx.fillRect(x0, yTop, x1 - x0 - 2, yBot - yTop);
    ctx.strokeStyle = '#3c3c3c';
    ctx.lineWidth = 1.5;
    ctx.strokeRect(x0, yTop, x1 - x0 - 2, yBot - yTop);
    ctx.fillStyle = '#1a1a1a';
    ctx.textBaseline = 'alphabetic';
    ctx.textAlign = 'left';
    const normal = `27px ${FONT}`;
    const italic = `italic 27px ${FONT}`;
    ctx.font = italic;
    const wItalic = ctx.measureText('solidus').width;
    ctx.font = normal;
    const wNormal = ctx.measureText('wet Granite ').width;
    const right = x1 - 6;
    const base = yTop - 4;
    ctx.fillText('wet Granite ', right - wItalic - wNormal, base);
    ctx.font = italic;
    ctx.fillText('solidus', right - wItalic, base);
    ctx.restore();
  },
  afterDatasetsDraw(chart: any) {
    const { ctx, scales, chartArea } = chart;
    const xs = scales.x;
    const ys = scales.y;
    const xl = xs.getPixelForValue(X_MIN);
    const xr = xs.getPixelForValue(X_AXIS_END);
    const yb = ys.getPixelForValue(Y_MIN);
    const yt = ys.getPixelForValue(Y_MAX);
    ctx.save();
    ctx.strokeStyle = '#7a7a7a';
    ctx.lineWidth = 1.5;
    ctx.beginPath();
    ctx.moveTo(xl, yt);
    ctx.lineTo(xl, yb);
    ctx.lineTo(xr, yb);
    ctx.stroke();
    ctx.beginPath();
    for (const v of xTickValues) {
      if (v === X_MIN) continue;
      const px = xs.getPixelForValue(v);
      ctx.moveTo(px, yb);
      ctx.lineTo(px, yb - 7);
    }
    for (const v of yTickValues) {
      if (v === Y_MIN) continue;
      const py = ys.getPixelForValue(v);
      ctx.moveTo(xl, py);
      ctx.lineTo(xl + 7, py);
    }
    ctx.stroke();

    ctx.fillStyle = '#1a1a1a';
    ctx.font = `35px ${FONT}`;
    ctx.textAlign = 'center';
    ctx.textBaseline = 'alphabetic';
    ctx.save();
    ctx.translate(41, 296);
    ctx.rotate(-Math.PI / 2);
    ctx.fillText('Zircon Saturation Temperature(ºC)', 0, 0);
    ctx.restore();

    ctx.textAlign = 'left';
    const tx = xs.getPixelForValue(55) + 2;
    const tb = chartArea.bottom + 92;
    ctx.font = `37px ${FONT}`;
    ctx.fillText('SiO', tx, tb);
    const w1 = ctx.measureText('SiO').width;
    ctx.font = `28px ${FONT}`;
    ctx.fillText('2', tx + w1 + 2, tb + 15);
    const w2 = ctx.measureText('2').width;
    ctx.font = `36px ${FONT}`;
    ctx.fillText(' wt. %', tx + w1 + w2 + 2, tb);

    const lx = chartArea.left + 30;
    const ly = 14;
    const lw = 354;
    const lh = 117;
    ctx.fillStyle = '#ffffff';
    ctx.fillRect(lx, ly, lw, lh);
    ctx.strokeStyle = '#8a8a8a';
    ctx.lineWidth = 1.5;
    ctx.strokeRect(lx, ly, lw, lh);
    ctx.font = `32px ${FONT}`;
    ctx.textBaseline = 'alphabetic';
    legendLabels.forEach((label, i) => {
      const base = ly + 30 + i * 38;
      ctx.fillStyle = seriesColors[i];
      ctx.beginPath();
      ctx.arc(lx + 19, base - 10, 4, 0, Math.PI * 2);
      ctx.fill();
      ctx.fillStyle = '#1a1a1a';
      ctx.fillText(label, lx + 36, base);
      ctx.fillText(legendCounts[i], lx + 214, base);
    });
    ctx.restore();
  },
};

export default function App() {
  const canvasRef = useRef<HTMLCanvasElement | null>(null);

  useEffect(() => {
    document.body.style.margin = '0';
    const canvas = canvasRef.current;
    if (!canvas) return;
    const pointStyle = (color: string, order: number) => ({
      backgroundColor: color,
      borderColor: color,
      borderWidth: 0,
      pointRadius: 4.6,
      pointHoverRadius: 4.6,
      showLine: false,
      clip: false as any,
      order,
    });
    const chart = new Chart(canvas, {
      type: 'scatter',
      data: {
        datasets: [
          {
            label: legendLabels[0],
            data: toPoints(anorogenicCore, anorogenicCoreFill, anorogenicEdge, anorogenicBand, anorogenicUpper, anorogenicRing),
            ...pointStyle(seriesColors[0], 3),
          },
          {
            label: legendLabels[1],
            data: toPoints(arcCore, arcCoreFill, arcLeft, arcScatter, arcBand),
            ...pointStyle(seriesColors[1], 2),
          },
          {
            label: legendLabels[2],
            data: toPoints(riftUpper, riftMid, riftLower),
            ...pointStyle(seriesColors[2], 1),
          },
        ],
      },
      options: {
        responsive: false,
        animation: false,
        events: [],
        layout: { padding: { left: 0, right: 6, top: 26, bottom: 0 } },
        plugins: { legend: { display: false }, tooltip: { enabled: false } },
        scales: {
          x: {
            type: 'linear',
            min: X_MIN,
            max: X_MAX,
            grid: { display: false, drawTicks: false },
            border: { display: false },
            afterFit: (s: any) => { s.height = 110; },
            afterBuildTicks: (s: any) => { s.ticks = xTickValues.map((v) => ({ value: v })); },
            ticks: {
              autoSkip: false,
              maxRotation: 0,
              padding: 13,
              color: '#1f1f1f',
              font: { size: 25, family: FONT },
              callback: (v: any) => String(v),
            },
          },
          y: {
            type: 'linear',
            min: Y_MIN,
            max: Y_MAX,
            grid: { display: false, drawTicks: false },
            border: { display: false },
            afterFit: (s: any) => { s.width = 143; },
            afterBuildTicks: (s: any) => { s.ticks = yTickValues.map((v) => ({ value: v })); },
            ticks: {
              autoSkip: false,
              padding: 10,
              color: '#1f1f1f',
              font: { size: 25, family: FONT },
              callback: (v: any) => String(v),
            },
          },
        },
      },
      plugins: [decorPlugin],
    });
    return () => chart.destroy();
  }, []);

  return (
    <div style={{ width: 1156, height: 743, position: 'relative', background: '#fff' }}>
      <canvas ref={canvasRef} width={1156} height={743} style={{ display: 'block' }} />
    </div>
  );
}
